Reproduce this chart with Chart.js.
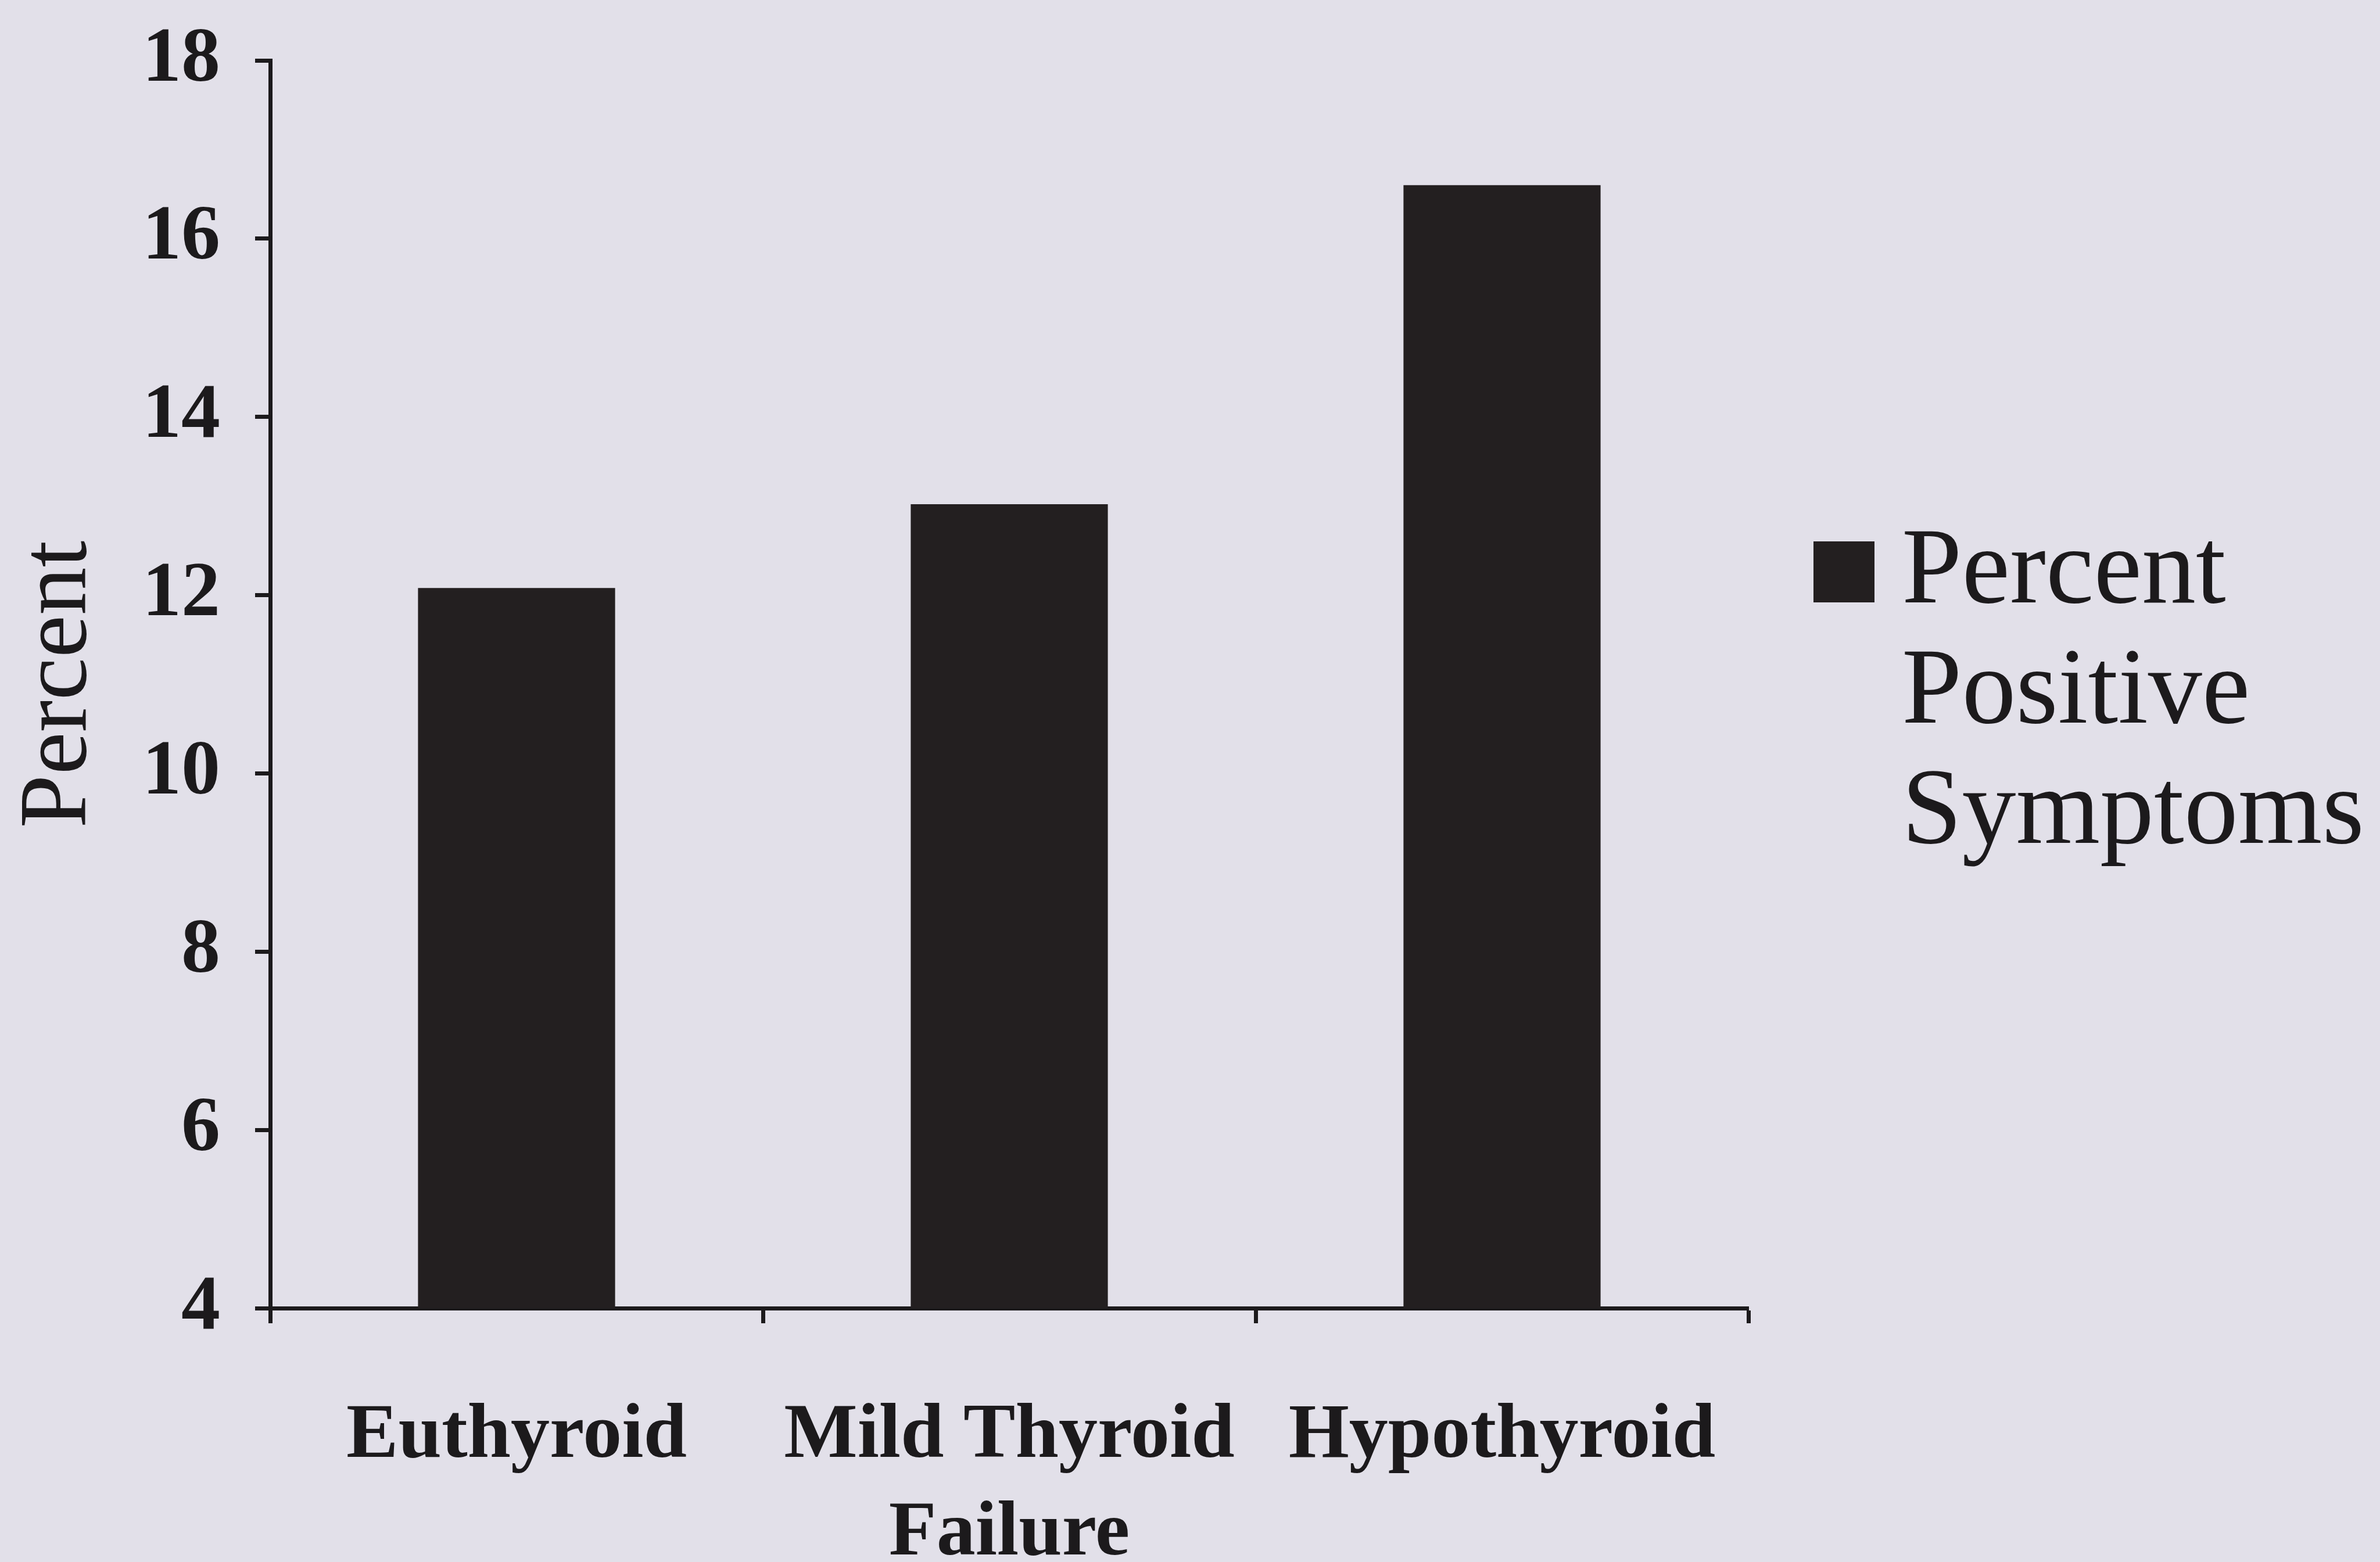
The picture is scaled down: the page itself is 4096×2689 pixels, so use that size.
<!DOCTYPE html>
<html>
<head>
<meta charset="utf-8">
<script src="https://cdn.jsdelivr.net/npm/chart.js@4/dist/chart.umd.min.js"></script>
<style>
    html, body { margin: 0; padding: 0; background: #e2e0e9; }
    canvas { display: block; }
</style>
</head>
<body>
<canvas id="thyroidChart" width="4096" height="2689"></canvas>
<script>
const categories = ['Euthyroid', ['Mild Thyroid', 'Failure'], 'Hypothyroid'];
const percentPositive = [12.08, 13.02, 16.6];
const seriesLabel = 'Percent Positive Symptoms';
const yTicks = [4, 6, 8, 10, 12, 14, 16, 18];

const serif = "'Liberation Serif', 'Times New Roman', serif";
const ink = '#1c1a1c';
const barColor = '#231f20';

// legend on the right, one word per line like the original
const wrappedLegend = {
    id: 'wrappedLegend',
    afterDraw(chart) {
        const ctx = chart.ctx;
        const ds = chart.data.datasets[0];
        const area = chart.chartArea;
        const boxX = area.right + 112;
        const boxSize = 105;
        const textX = boxX + 152;
        const firstBase = 1037;
        const lineGap = 207;

        ctx.save();
        ctx.fillStyle = ds.backgroundColor;
        ctx.fillRect(boxX, firstBase - boxSize, boxSize, boxSize);
        ctx.fillStyle = ink;
        ctx.font = '186px ' + serif;
        ctx.textAlign = 'left';
        ctx.textBaseline = 'alphabetic';
        ds.label.split(' ').forEach(function (word, i) {
            ctx.fillText(word, textX, firstBase + i * lineGap);
        });
        ctx.restore();
    }
};

const ctx = document.getElementById('thyroidChart').getContext('2d');
new Chart(ctx, {
    type: 'bar',
    data: {
        labels: categories,
        datasets: [{
            label: seriesLabel,
            data: percentPositive,
            backgroundColor: barColor,
            borderWidth: 0,
            categoryPercentage: 1,
            barPercentage: 0.4
        }]
    },
    options: {
        responsive: false,
        animation: false,
        devicePixelRatio: 1,
        layout: {
            padding: { top: 104, right: 1087, left: 0, bottom: 0 }
        },
        plugins: {
            legend: { display: false },
            tooltip: { enabled: false }
        },
        scales: {
            x: {
                afterFit: function (scale) { scale.height = 437; },
                grid: {
                    drawOnChartArea: false,
                    drawTicks: true,
                    tickLength: 26,
                    tickColor: ink,
                    tickWidth: 7,
                    offset: true
                },
                border: { display: true, color: ink, width: 7 },
                ticks: {
                    color: ink,
                    padding: 112,
                    maxRotation: 0,
                    font: { family: serif, size: 134, weight: 'bold', lineHeight: 1.25 }
                }
            },
            y: {
                min: 4,
                max: 18,
                afterFit: function (scale) {
                    scale.width = 465;
                    scale.paddingTop = 0;
                    scale.paddingBottom = 0;
                },
                afterBuildTicks: function (scale) {
                    scale.ticks = yTicks.map(function (v) { return { value: v }; });
                },
                grid: {
                    drawOnChartArea: false,
                    drawTicks: true,
                    tickLength: 26,
                    tickColor: ink,
                    tickWidth: 7
                },
                border: { display: true, color: ink, width: 7 },
                ticks: {
                    color: ink,
                    padding: 60,
                    font: { family: serif, size: 134, weight: 'bold' }
                },
                title: {
                    display: true,
                    text: 'Percent',
                    color: ink,
                    padding: { top: 5, bottom: 0 },
                    font: { family: serif, size: 165, weight: 'normal', lineHeight: 1.2 }
                }
            }
        }
    },
    plugins: [wrappedLegend]
});
</script>
</body>
</html>
